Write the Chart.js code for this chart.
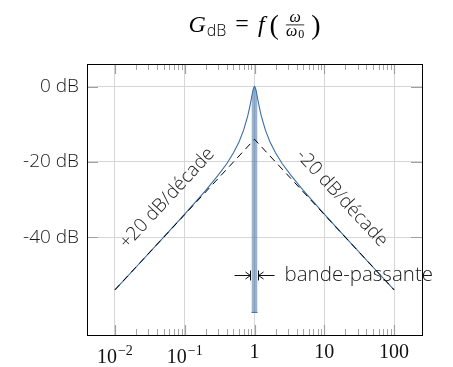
<!DOCTYPE html>
<html>
<head>
<meta charset="utf-8">
<script src="https://cdn.jsdelivr.net/npm/chart.js@4/dist/chart.umd.min.js"></script>
<style>
  html, body { margin: 0; padding: 0; background: #fff; }
  canvas { display: block; }
</style>
</head>
<body>
<canvas id="bode" width="453" height="367"></canvas>
<script>
// normalised pulsation w/w0 and gain in dB (Q ~ 5)
const omega = [0.01, 0.02, 0.05, 0.1, 0.2, 0.3, 0.4, 0.5, 0.6, 0.7, 0.8, 0.85, 0.9, 0.95, 0.975, 1,
  1.026, 1.053, 1.111, 1.176, 1.25, 1.429, 1.667, 2, 2.5, 3.333, 5, 10, 20, 50, 100];
const gainDb = [-54.0, -48.0, -40.0, -33.9, -27.6, -23.6, -20.5, -17.6, -14.7, -11.5, -7.8, -5.6, -3.3, -1.0, -0.3, 0,
  -0.3, -1.0, -3.3, -5.6, -7.8, -11.5, -14.7, -17.6, -20.5, -23.6, -27.6, -33.9, -40.0, -48.0, -54.0];

// asymptotes +20 / -20 dB per decade
const asymOmega = [0.01, 1, 100];
const asymDb = [-54, -14, -54];

// pass band (-3 dB) shading
const bandOmega = [0.905, 0.95, 0.975, 1, 1.026, 1.053, 1.105];
const bandTopDb = [-3.0, -1.0, -0.3, 0, -0.3, -1.0, -3.0];
const bandFloorDb = -60;

// axes
const xMajor = [0.01, 0.1, 1, 10, 100];
const xLabelBase = ["10", "10", "1", "10", "100"];
const xLabelExp = ["\u22122", "\u22121", "", "", ""];
const yMajor = [0, -20, -40];
const xMin = 0.00398, xMax = 251.2;
const yMin = -66, yMax = 6;

// annotations
const slopeLabels = [
  { text: "+20 dB/décade", at: 0.1, side: -1 },
  { text: "-20 dB/décade", at: 10, side: 1 },
];
const bwLabel = "bande-passante";
const bwLevelDb = -50;

const SANS = '"Open Sans", sans-serif';
const SERIF = '"Liberation Serif", serif';
const BLUE = "#3a6ea5";

const minorTicks = [];
for (const d of [0.01, 0.1, 1, 10]) {
  for (let k = 2; k <= 9; k++) minorTicks.push(d * k);
}

function pts(xs, ys) {
  return xs.map((x, i) => ({ x, y: Array.isArray(ys) ? ys[i] : ys }));
}

function arrowTo(ctx, x0, x1, y) {
  const d = Math.sign(x1 - x0);
  ctx.beginPath();
  ctx.moveTo(x0, y);
  ctx.lineTo(x1, y);
  ctx.moveTo(x1 - d * 5, y - 3.5);
  ctx.lineTo(x1, y);
  ctx.lineTo(x1 - d * 5, y + 3.5);
  ctx.stroke();
}

const decor = {
  id: "decor",
  afterDraw(chart) {
    const { ctx, chartArea: a, scales } = chart;
    const xs = scales.x, ys = scales.y;
    ctx.save();

    // inside tick marks
    ctx.lineWidth = 1;
    ctx.strokeStyle = "#a6a6a6";
    ctx.beginPath();
    for (const v of minorTicks) {
      const px = Math.round(xs.getPixelForValue(v)) + 0.5;
      ctx.moveTo(px, a.top); ctx.lineTo(px, a.top + 6);
      ctx.moveTo(px, a.bottom); ctx.lineTo(px, a.bottom - 6);
    }
    ctx.stroke();
    ctx.strokeStyle = "#a0a0a0";
    ctx.lineWidth = 1.2;
    ctx.beginPath();
    for (const v of xMajor) {
      const px = Math.round(xs.getPixelForValue(v)) + 0.5;
      ctx.moveTo(px, a.top); ctx.lineTo(px, a.top + 10);
      ctx.moveTo(px, a.bottom); ctx.lineTo(px, a.bottom - 10);
    }
    for (const v of yMajor) {
      const py = Math.round(ys.getPixelForValue(v)) + 0.5;
      ctx.moveTo(a.left, py); ctx.lineTo(a.left + 11, py);
      ctx.moveTo(a.right, py); ctx.lineTo(a.right - 11, py);
    }
    ctx.stroke();

    // frame
    ctx.strokeStyle = "#000";
    ctx.lineWidth = 1;
    ctx.strokeRect(Math.round(a.left) + 0.5, Math.round(a.top) + 0.5,
      Math.round(a.right - a.left), Math.round(a.bottom - a.top));

    // x labels (serif, with exponents)
    ctx.fillStyle = "#111";
    ctx.textBaseline = "alphabetic";
    xMajor.forEach((v, i) => {
      const px = xs.getPixelForValue(v);
      ctx.font = "20px " + SERIF;
      const wb = ctx.measureText(xLabelBase[i]).width;
      if (xLabelExp[i]) {
        ctx.font = "14px " + SERIF;
        const we = ctx.measureText(xLabelExp[i]).width;
        const x0 = px - (wb + we + 1) / 2;
        ctx.font = "20px " + SERIF;
        ctx.textAlign = "left";
        ctx.fillText(xLabelBase[i], x0, a.bottom + 28);
        ctx.font = "14px " + SERIF;
        ctx.fillText(xLabelExp[i], x0 + wb + 1, a.bottom + 20);
      } else {
        ctx.textAlign = "center";
        ctx.fillText(xLabelBase[i], px, a.bottom + 23);
      }
    });

    // slope labels along the asymptotes
    const p0 = { x: xs.getPixelForValue(asymOmega[0]), y: ys.getPixelForValue(asymDb[0]) };
    const p1 = { x: xs.getPixelForValue(asymOmega[1]), y: ys.getPixelForValue(asymDb[1]) };
    const ang = Math.atan2(p1.y - p0.y, p1.x - p0.x);
    ctx.font = "300 19px " + SANS;
    ctx.fillStyle = "#1a1a1a";
    ctx.textAlign = "center";
    ctx.textBaseline = "middle";
    slopeLabels.forEach((s) => {
      const dbAt = s.side < 0
        ? asymDb[0] + 20 * Math.log10(s.at / asymOmega[0])
        : asymDb[2] + 20 * Math.log10(asymOmega[2] / s.at);
      const cx = xs.getPixelForValue(s.at), cy = ys.getPixelForValue(dbAt);
      const a2 = s.side < 0 ? ang : -ang;
      const nx = Math.sin(a2), ny = -Math.cos(a2);
      ctx.save();
      ctx.translate(cx + nx * 24, cy + ny * 24);
      ctx.rotate(a2);
      ctx.fillText(s.text, 0, 0);
      ctx.restore();
    });

    // pass band arrows
    const bl = xs.getPixelForValue(bandOmega[0]);
    const br = xs.getPixelForValue(bandOmega[bandOmega.length - 1]);
    const by = Math.round(ys.getPixelForValue(bwLevelDb)) + 0.5;
    ctx.strokeStyle = "#111";
    ctx.lineWidth = 1;
    arrowTo(ctx, bl - 17, bl - 1, by);
    arrowTo(ctx, br + 17, br + 1, by);
    ctx.beginPath();
    ctx.moveTo(Math.round(bl) - 0.5, by - 5); ctx.lineTo(Math.round(bl) - 0.5, by + 5);
    ctx.moveTo(Math.round(br) + 0.5, by - 5); ctx.lineTo(Math.round(br) + 0.5, by + 5);
    ctx.stroke();
    ctx.font = "300 20.5px " + SANS;
    ctx.textAlign = "left";
    ctx.fillText(bwLabel, br + 27, by);

    // title  G_dB = f(w/w0)
    const cxT = (a.left + a.right) / 2, base = 32;
    const parts = [
      { t: "G", f: "italic 24px " + SERIF, dy: 0, gap: 1 },
      { t: "dB", f: "300 16px " + SANS, dy: 4, gap: 9 },
      { t: "=", f: "24px " + SERIF, dy: -1, gap: 9 },
      { t: "f", f: "italic 24px " + SERIF, dy: 0, gap: 5 },
      { t: "(", f: "28px " + SERIF, dy: 2, gap: 7 },
      { frac: true, gap: 7 },
      { t: ")", f: "28px " + SERIF, dy: 2, gap: 0 },
    ];
    ctx.font = "italic 16px " + SERIF;
    const wOm = ctx.measureText("ω").width;
    ctx.font = "12px " + SERIF;
    const wZero = ctx.measureText("0").width;
    const fracW = wOm + wZero + 1;
    let total = 0;
    parts.forEach((p) => {
      if (p.frac) p.w = fracW;
      else { ctx.font = p.f; p.w = ctx.measureText(p.t).width; }
      total += p.w + p.gap;
    });
    let x = cxT - total / 2;
    ctx.textAlign = "left";
    ctx.textBaseline = "alphabetic";
    ctx.fillStyle = "#000";
    parts.forEach((p) => {
      if (p.frac) {
        ctx.font = "italic 16px " + SERIF;
        ctx.fillText("ω", x + (fracW - wOm) / 2, base - 10);
        ctx.fillText("ω", x, base + 4);
        ctx.font = "12px " + SERIF;
        ctx.fillText("0", x + wOm + 1, base + 6);
        ctx.fillRect(x, base - 7.5, fracW, 0.8);
      } else {
        ctx.font = p.f;
        ctx.fillText(p.t, x, base + p.dy);
      }
      x += p.w + p.gap;
    });

    ctx.restore();
  },
};

new Chart(document.getElementById("bode"), {
  type: "line",
  data: {
    datasets: [
      {
        data: pts(asymOmega, asymDb),
        borderColor: "#000",
        borderWidth: 1,
        borderDash: [7, 5],
        pointRadius: 0,
        fill: false,
        order: 1,
      },
      {
        data: pts(omega, gainDb),
        borderColor: BLUE,
        borderWidth: 1.1,
        pointRadius: 0,
        fill: false,
        order: 2,
      },
      {
        data: pts(bandOmega, bandTopDb),
        borderWidth: 0,
        borderColor: "rgba(0,0,0,0)",
        backgroundColor: "rgba(70,115,170,0.55)",
        pointRadius: 0,
        fill: { value: bandFloorDb },
        order: 3,
      },
      {
        data: pts([bandOmega[0], bandOmega[bandOmega.length - 1]], bandFloorDb),
        borderColor: "#3a6a9c",
        borderWidth: 1,
        pointRadius: 0,
        fill: false,
        order: 3,
      },
    ],
  },
  options: {
    responsive: false,
    animation: false,
    devicePixelRatio: 1,
    layout: { padding: { left: 0, top: 64, right: 31, bottom: 0 } },
    plugins: { legend: { display: false }, tooltip: { enabled: false }, title: { display: false } },
    scales: {
      x: {
        type: "logarithmic",
        min: xMin,
        max: xMax,
        afterBuildTicks: (s) => { s.ticks = xMajor.map((v) => ({ value: v })); },
        afterFit: (s) => { s.height = 32; },
        ticks: { display: false },
        grid: { color: "#d6d6d6", lineWidth: 1, drawTicks: false },
        border: { display: false },
      },
      y: {
        type: "linear",
        min: yMin,
        max: yMax,
        afterBuildTicks: (s) => { s.ticks = yMajor.map((v) => ({ value: v })); },
        afterFit: (s) => { s.width = 87; },
        ticks: {
          padding: 8,
          color: "#1a1a1a",
          font: { family: SANS, size: 19, weight: "300" },
          callback: (v) => v + " dB",
        },
        grid: { color: "#d6d6d6", lineWidth: 1, drawTicks: false },
        border: { display: false },
      },
    },
  },
  plugins: [decor],
});
</script>
</body>
</html>
